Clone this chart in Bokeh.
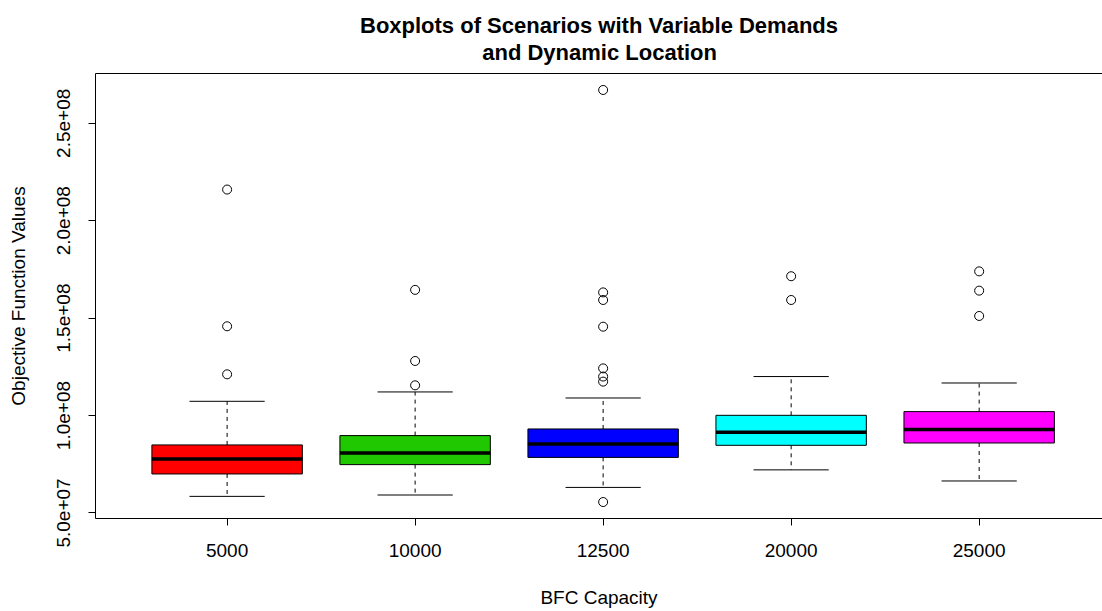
from bokeh.plotting import figure
from bokeh.models import Range1d, LinearAxis, FixedTicker, Title, ColumnDataSource
from bokeh.embed import file_html
from bokeh.resources import INLINE

# ---- data ----
capacities = ["5000", "10000", "12500", "20000", "25000"]
box_colors = ["#FF0000", "#1FC800", "#0000FF", "#00FFFF", "#FF00FF"]
lower_whisker = [5.85e7, 5.92e7, 6.31e7, 7.21e7, 6.64e7]
q1 = [7.00e7, 7.48e7, 7.85e7, 8.47e7, 8.59e7]
median = [7.77e7, 8.08e7, 8.54e7, 9.14e7, 9.28e7]
q3 = [8.49e7, 8.97e7, 9.31e7, 10.01e7, 10.20e7]
upper_whisker = [10.73e7, 11.21e7, 10.90e7, 12.00e7, 11.67e7]
outliers = [
    [2.160e8, 1.458e8, 1.2115e8],
    [1.645e8, 1.280e8, 1.155e8],
    [2.671e8, 1.632e8, 1.593e8, 1.456e8, 1.242e8, 1.200e8, 1.174e8, 5.56e7],
    [1.715e8, 1.593e8],
    [1.740e8, 1.641e8, 1.511e8],
]
y_ticks = [5e7, 1e8, 1.5e8, 2e8, 2.5e8]
y_tick_labels = ["5.0e+07", "1.0e+08", "1.5e+08", "2.0e+08", "2.5e+08"]
title_line1 = "Boxplots of Scenarios with Variable Demands"
title_line2 = "and Dynamic Location"

FONT = "Liberation Sans"
n = len(capacities)
xs = list(range(1, n + 1))
box_w = 0.8
staple_w = 0.4

all_vals = lower_whisker + upper_whisker + [v for o in outliers for v in o]
lo, hi = min(all_vals), max(all_vals)
pad = 0.04 * (hi - lo)

p = figure(width=1102, height=611, output_backend="svg", toolbar_location=None,
           x_range=Range1d(0.3, 5.656), y_range=Range1d(lo - pad, hi + pad),
           x_axis_location=None, y_axis_location=None,
           min_border_left=95, min_border_right=0, min_border_top=73, min_border_bottom=93)
p.title_location = None
p.grid.visible = False
p.outline_line_color = None
p.background_fill_color = "white"
p.border_fill_color = "white"

def style_axis(ax):
    ax.axis_line_color = "black"
    ax.axis_line_width = 1
    ax.major_tick_line_color = "black"
    ax.major_tick_out = 7
    ax.major_tick_in = 0
    ax.minor_tick_out = 0
    ax.minor_tick_in = 0
    ax.major_label_text_font = FONT
    ax.major_label_text_font_size = "19px"
    ax.major_label_text_color = "black"
    ax.axis_label_text_font = FONT
    ax.axis_label_text_font_size = "19px"
    ax.axis_label_text_font_style = "normal"
    ax.axis_label_text_color = "black"

xaxis = LinearAxis(ticker=FixedTicker(ticks=xs),
                   major_label_overrides={x: c for x, c in zip(xs, capacities)},
                   axis_label="BFC Capacity")
style_axis(xaxis)
xaxis.major_label_standoff = 18
xaxis.axis_label_standoff = 27
p.add_layout(xaxis, "below")

yaxis = LinearAxis(ticker=FixedTicker(ticks=y_ticks),
                   major_label_overrides={t: l for t, l in zip(y_ticks, y_tick_labels)},
                   axis_label="Objective Function Values")
style_axis(yaxis)
yaxis.major_label_orientation = "vertical"
yaxis.major_label_standoff = 18
yaxis.axis_label_standoff = 26
p.add_layout(yaxis, "left")

topaxis = LinearAxis(ticker=FixedTicker(ticks=[]))
style_axis(topaxis)
topaxis.major_tick_out = 0
topaxis.major_label_text_font_size = "0px"
topaxis.major_label_standoff = 0
p.add_layout(topaxis, "above")

# two-line title; second line padded with no-break spaces so it sits centred
pad_spaces = "\u00a0" * 20
t = Title(text=title_line1 + "\n" + pad_spaces + title_line2, align="center", text_font=FONT,
          text_line_height=1.08, text_font_size="22px", text_font_style="bold",
          text_color="black", standoff=17)
p.add_layout(t, "above")

src = ColumnDataSource(dict(
    x=xs, q1=q1, q3=q3, med=median, lw=lower_whisker, uw=upper_whisker, color=box_colors,
    bx0=[x - box_w / 2 for x in xs], bx1=[x + box_w / 2 for x in xs],
    sx0=[x - staple_w / 2 for x in xs], sx1=[x + staple_w / 2 for x in xs],
))

# whiskers (dashed)
p.segment(x0="x", y0="q3", x1="x", y1="uw", source=src, line_color="black", line_width=1, line_dash="4 4")
p.segment(x0="x", y0="q1", x1="x", y1="lw", source=src, line_color="black", line_width=1, line_dash="4 4")
# staples
p.segment(x0="sx0", y0="uw", x1="sx1", y1="uw", source=src, line_color="black", line_width=1)
p.segment(x0="sx0", y0="lw", x1="sx1", y1="lw", source=src, line_color="black", line_width=1)
# boxes
p.vbar(x="x", width=box_w, bottom="q1", top="q3", source=src, fill_color="color",
       line_color="black", line_width=1)
# medians
p.segment(x0="bx0", y0="med", x1="bx1", y1="med", source=src, line_color="black", line_width=3.5)

# outliers
ox = [x for x, o in zip(xs, outliers) for _ in o]
oy = [v for o in outliers for v in o]
p.scatter(ox, oy, marker="circle", size=9, fill_color=None, line_color="black", line_width=1)

open("out.html", "w").write(file_html(p, INLINE))
